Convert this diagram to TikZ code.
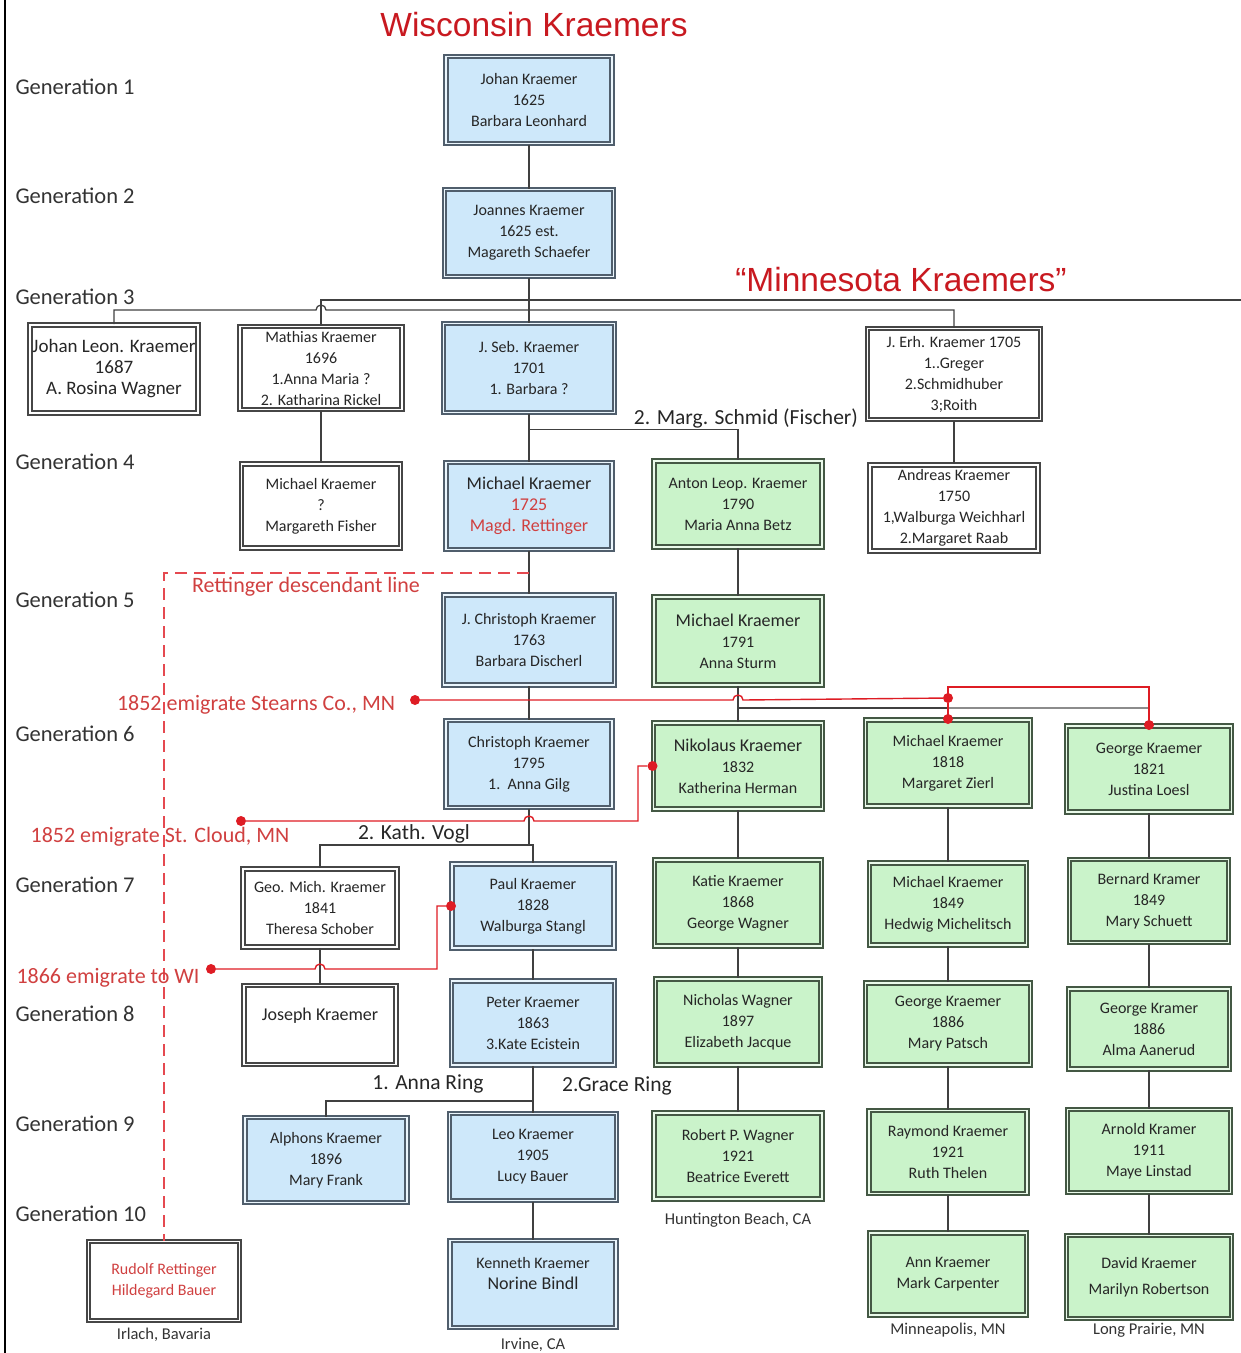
\documentclass[tikz,border=0pt]{standalone}
\usepackage{fontspec}
\setmainfont{Carlito}
\newfontfamily\headfont{Liberation Sans}
\usepackage{xcolor}
\usepackage{tikz}
\usetikzlibrary{positioning, arrows.meta}

\definecolor{wiscfill}{RGB}{206,232,250}
\definecolor{minnfill}{RGB}{202,243,202}
\definecolor{wiscrim}{RGB}{80,94,108}
\definecolor{minnrim}{RGB}{68,88,68}
\definecolor{plainrim}{RGB}{70,70,70}
\definecolor{kred}{RGB}{222,28,36}
\definecolor{notered}{RGB}{208,64,64}

\newcommand{\namebig}[1]{{\fontsize{18}{21}\selectfont #1}}

\begin{document}
\begin{tikzpicture}[
  x=1pt, y=-1pt,
  font=\fontsize{16}{21}\selectfont,
  person/.style={draw, double, line width=2pt, double distance=1.8pt,
    inner sep=1pt, align=center, text=black!85},
  wisc/.style={person, draw=wiscrim, double=wiscfill!40!white, fill=wiscfill,
    minimum width=166pt, minimum height=87pt},
  minn/.style={person, draw=minnrim, double=minnfill!40!white, fill=minnfill,
    minimum width=165pt, minimum height=86pt},
  other/.style={person, draw=plainrim, double=white, fill=white,
    minimum width=156pt, minimum height=81pt},
  genlabel/.style={anchor=west, font=\fontsize{22.5}{26}\selectfont, text=black!80},
  title/.style={font=\headfont\fontsize{33.5}{38}\selectfont, text=kred!90!black},
  remark/.style={font=\fontsize{21.5}{24}\selectfont, text=black!85, inner sep=1pt},
  note/.style={font=\fontsize{22}{24}\selectfont, text=notered},
  place/.style={font=\fontsize{16.5}{18}\selectfont, text=black!80},
  link/.style={draw=black!75, line width=1.3pt},
  bus/.style={link, line width=2.6pt},
  route/.style={draw=kred, line width=1.4pt},
  trail/.style={draw=kred!80, line width=1.4pt, dash pattern=on 12pt off 7pt},
  dot/.style={circle, fill=kred, inner sep=0pt, minimum size=10pt},
]
  \useasboundingbox (0,0) rectangle (1241,1353);
  \draw[line width=1.5pt] (5,0) -- (5,1353);

  % Titles
  \node[title] (wisconsin) at (534,25) {Wisconsin Kraemers};
  \node[title] (minnesota) at (901,280) {“Minnesota Kraemers”};

  % Generation labels down the left
  \foreach \n/\y in {1/87, 2/196, 3/297, 4/462, 5/600, 6/734, 7/885, 8/1014, 9/1124, 10/1214}
    \node[genlabel] (gen\n) at (12,\y) {Generation \n};

  % Generations 1-2
  \node[wisc] (johan) at (529,100) {Johan Kraemer\\1625\\Barbara Leonhard};
  \node[wisc, minimum width=169pt] (joannes) at (529,233) {Joannes Kraemer\\1625 est.\\Magareth Schaefer};

  % Generation 3
  \node[other, minimum width=168pt, minimum height=88pt, font=\fontsize{19}{21}\selectfont]
    (leon) at (114,369) {Johan Leon. Kraemer\\1687\\A. Rosina Wagner};
  \node[other, minimum width=162pt, minimum height=83pt, inner sep=0pt]
    (mathias) at (321,368) {Mathias Kraemer\\1696\\1.Anna Maria ?\\2. Katharina Rickel};
  \node[wisc, minimum width=171pt, minimum height=89pt] (seb) at (529,368) {J. Seb. Kraemer\\1701\\1. Barbara ?};
  \node[other, minimum width=173pt, minimum height=91pt, inner sep=0pt]
    (erh) at (954,374) {J. Erh. Kraemer 1705\\1..Greger\\2.Schmidhuber\\3;Roith};

  % Generation 4
  \node[other, minimum width=159pt, minimum height=84pt] (fisher) at (321,506) {Michael Kraemer\\?\\Margareth Fisher};
  \node[wisc] (rett) at (529,506)
    {\namebig{Michael Kraemer}\\\textcolor{notered}{\namebig{1725}}\\\textcolor{notered}{\namebig{Magd. Rettinger}}};
  \node[minn, minimum width=168pt] (anton) at (738,504) {Anton Leop. Kraemer\\1790\\Maria Anna Betz};
  \node[other, minimum width=168pt, minimum height=86pt, inner sep=0pt]
    (andreas) at (954,508) {Andreas Kraemer\\1750\\1,Walburga Weichharl\\2.Margaret Raab};

  % Generation 5
  \node[wisc, minimum width=171pt, minimum height=90pt] (jchris) at (529,640) {J. Christoph Kraemer\\1763\\Barbara Discherl};
  \node[minn, minimum width=168pt, minimum height=88pt] (sturm) at (738,641) {\namebig{Michael Kraemer}\\1791\\Anna Sturm};

  % Generation 6
  \node[wisc] (chris) at (529,764) {Christoph Kraemer\\1795\\1.\ \ Anna Gilg};
  \node[minn, minimum width=169pt] (nikolaus) at (738,766) {\namebig{Nikolaus Kraemer}\\1832\\Katherina Herman};
  \node[minn] (mich18) at (948,763) {Michael Kraemer\\1818\\Margaret Zierl};
  \node[minn] (george21) at (1149,769) {George Kraemer\\1821\\Justina Loesl};

  % Generation 7
  \node[other, minimum width=154pt, minimum height=78pt] (geomich) at (320,908) {Geo. Mich. Kraemer\\1841\\Theresa Schober};
  \node[wisc, minimum width=162pt, minimum height=84pt] (paul) at (533,906) {Paul Kraemer\\1828\\Walburga Stangl};
  \node[minn, minimum width=167pt] (katie) at (738,903) {Katie Kraemer\\1868\\George Wagner};
  \node[minn, minimum width=157pt, minimum height=82pt] (mich49) at (948,904) {Michael Kraemer\\1849\\Hedwig Michelitsch};
  \node[minn, minimum width=159pt, minimum height=83pt] (bernard) at (1149,901) {Bernard Kramer\\1849\\Mary Schuett};

  % Generation 8
  \node[other, minimum width=152pt, minimum height=79pt] (joseph) at (320,1025) {\namebig{Joseph Kraemer}\\\mbox{}};
  \node[wisc, minimum width=163pt, minimum height=84pt] (peter) at (533,1023) {Peter Kraemer\\1863\\3.Kate Ecistein};
  \node[minn] (nicholas) at (738,1022) {Nicholas Wagner\\1897\\Elizabeth Jacque};
  \node[minn, minimum height=82pt] (george86) at (948,1024) {George Kraemer\\1886\\Mary Patsch};
  \node[minn, minimum width=161pt, minimum height=80pt] (kramer86) at (1149,1029) {George Kramer\\1886\\Alma Aanerud};

  % Generation 9
  \node[wisc, minimum width=162pt, minimum height=85pt] (alphons) at (326,1160) {Alphons Kraemer\\1896\\Mary Frank};
  \node[wisc, minimum width=167pt] (leo) at (533,1157) {Leo Kraemer\\1905\\Lucy Bauer};
  \node[minn, minimum width=168pt] (robert) at (738,1156) {Robert P. Wagner\\1921\\Beatrice Everett};
  \node[minn, minimum width=158pt, minimum height=83pt] (raymond) at (948,1152) {Raymond Kraemer\\1921\\Ruth Thelen};
  \node[minn, minimum width=163pt, minimum height=83pt] (arnold) at (1149,1151) {Arnold Kramer\\1911\\Maye Linstad};

  % Generation 10
  \node[other, minimum width=151pt, minimum height=79pt, text=notered] (rudolf) at (164,1281) {Rudolf Rettinger\\Hildegard Bauer};
  \node[wisc] (kenneth) at (533,1284) {Kenneth Kraemer\\\namebig{Norine Bindl}\\\mbox{}};
  \node[minn, minimum width=157pt, minimum height=82pt] (ann) at (948,1274) {Ann Kraemer\\Mark Carpenter};
  \node[minn, minimum width=165pt, minimum height=83pt] (david) at (1149,1277) {David Kraemer\\[5pt]Marilyn Robertson};

  % Places under the last boxes
  \node[place, anchor=north] (irlach) at (rudolf.south) [yshift=-3pt] {Irlach, Bavaria};
  \node[place, anchor=north] (irvine) at (kenneth.south) [yshift=-6pt] {Irvine, CA};
  \node[place, anchor=north] (huntington) at (robert.south) [yshift=-9pt] {Huntington Beach, CA};
  \node[place, anchor=north] (minneapolis) at (ann.south) [yshift=-3pt] {Minneapolis, MN};
  \node[place, anchor=north] (longprairie) at (david.south) [yshift=0pt] {Long Prairie, MN};

  % Gen 1 -> 3
  \draw[link] (johan) -- (joannes);
  \draw[link] (joannes) -- (seb);
  \coordinate (rim) at (1241,300);
  \draw[link] (mathias.north) |- (rim);
  \draw[link] (leon.north) -- (114,310) -- (316,310) arc[start angle=180, end angle=0, radius=5pt]
    -| (erh.north);

  % Gen 3 -> 5
  \draw[link] (mathias) -- (fisher);
  \draw[link] (seb) -- (rett);
  \draw[link] (seb.south) -- ++(0,16) -| (anton.north);
  \node[remark] (marg) at (746,418) {2. Marg. Schmid (Fischer)};
  \draw[link] (erh) -- (andreas);
  \draw[link] (rett) -- (jchris);
  \draw[link] (anton) -- (sturm);

  % Rettinger line
  \coordinate (split) at (529,573);
  \draw[trail] (split) -| (rudolf.north);
  \node[note] (rettline) at (306,587) {Rettinger descendant line};

  % Gen 5 -> 6
  \draw[link] (jchris) -- (chris);
  \draw[link] (sturm) -- (nikolaus);
  \coordinate (fork) at (738,708);
  \draw[bus] (fork) -- (fork -| mich18);
  \draw[bus, draw=black!45] (fork -| mich18) -| (george21.north);
  \draw[link] (fork -| mich18) -- (mich18.north);

  % Gen 6 -> 7
  \coordinate (vogl) at (529,845);
  \draw[link] (chris.south) -- (vogl) -| (paul.north);
  \draw[link] (vogl) -| (geomich.north);
  \node[remark, fill=white] (vogllabel) at (414,834) {2. Kath. Vogl};
  \draw[link] (nikolaus) -- (katie);
  \draw[link] (mich18) -- (mich49);
  \draw[link] (george21) -- (bernard);

  % Gen 7 -> 8
  \draw[link] (geomich) -- (joseph);
  \draw[link] (paul) -- (peter);
  \draw[link] (katie) -- (nicholas);
  \draw[link] (mich49) -- (george86);
  \draw[link] (bernard) -- (kramer86);

  % Gen 8 -> 10
  \coordinate (ring) at (533,1101);
  \draw[link] (peter) -- (leo);
  \draw[link] (ring) -| (alphons.north);
  \node[remark] (annring) at (428,1084) {1. Anna Ring};
  \node[remark] (gracering) at (617,1086) {2.Grace Ring};
  \draw[link] (nicholas) -- (robert);
  \draw[link] (george86) -- (raymond);
  \draw[link] (kramer86) -- (arnold);
  \draw[link] (leo) -- (kenneth);
  \draw[link] (raymond) -- (ann);
  \draw[link] (arnold) -- (david);

  % Emigration routes (red)
  \node[dot] (stearns) at (415,700) {};
  \node[dot] (fork18) at (948,698) {};
  \node[dot] (top18) at (mich18.north) {};
  \node[dot] (top21) at (george21.north) {};
  \draw[route] (stearns) -- (733,700) arc[start angle=180, end angle=0, radius=5pt] -- (fork18);
  \draw[route] (fork18) -- (top18);
  \draw[route] (fork18.center) -- ++(0,-11) -| (top21);
  \node[note] (stearnslabel) at (256,705) {1852 emigrate Stearns Co., MN};

  \node[dot] (cloud) at (241,821) {};
  \node[dot] (nikin) at (nikolaus.west) {};
  \draw[route] (cloud) -- (524,821) arc[start angle=180, end angle=0, radius=5pt] -- (638,821) |- (nikin);
  \node[note] (cloudlabel) at (160,837) {1852 emigrate St. Cloud, MN};

  \node[dot] (wi) at (211,969) {};
  \node[dot] (paulin) at (paul.west) {};
  \draw[route] (wi) -- (315,969) arc[start angle=180, end angle=0, radius=5pt] -- (437,969) |- (paulin);
  \node[note] (wilabel) at (108,978) {1866 emigrate to WI};
\end{tikzpicture}
\end{document}
